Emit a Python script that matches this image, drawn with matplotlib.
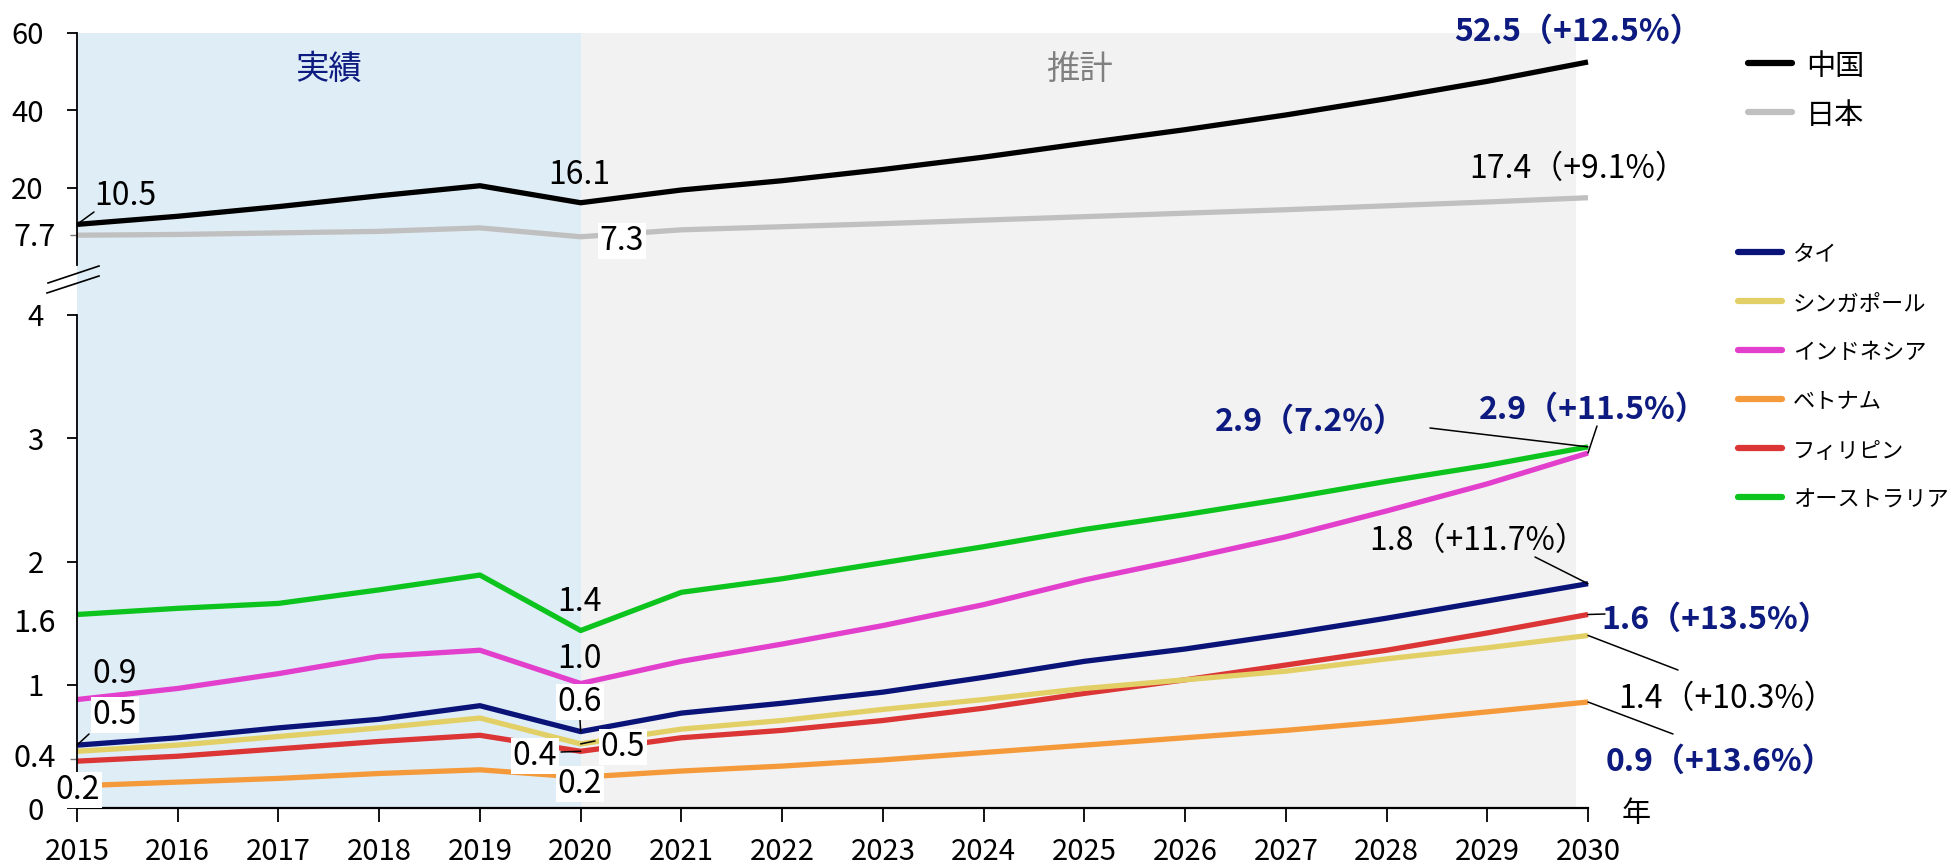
import matplotlib
matplotlib.use('Agg')
import matplotlib.pyplot as plt
from matplotlib.lines import Line2D

plt.rcParams['font.family'] = ['Noto Sans CJK JP', 'DejaVu Sans']

# ---------------- data ----------------
years = list(range(2015, 2031))
china = [10.5, 12.6, 15.1, 17.9, 20.5, 16.1, 19.4, 21.8, 24.7, 27.9, 31.5, 35.0, 38.8, 43.0, 47.5, 52.5]
japan = [7.7, 7.9, 8.3, 8.7, 9.6, 7.3, 9.1, 9.9, 10.7, 11.6, 12.5, 13.4, 14.3, 15.3, 16.3, 17.4]
thai = [0.51, 0.57, 0.65, 0.72, 0.83, 0.62, 0.77, 0.85, 0.94, 1.06, 1.19, 1.29, 1.41, 1.54, 1.68, 1.82]
sing = [0.46, 0.51, 0.58, 0.65, 0.73, 0.52, 0.64, 0.71, 0.80, 0.88, 0.97, 1.04, 1.11, 1.21, 1.30, 1.40]
indo = [0.88, 0.97, 1.09, 1.23, 1.28, 1.01, 1.19, 1.33, 1.48, 1.65, 1.85, 2.02, 2.20, 2.41, 2.63, 2.88]
viet = [0.18, 0.21, 0.24, 0.28, 0.31, 0.25, 0.30, 0.34, 0.39, 0.45, 0.51, 0.57, 0.63, 0.70, 0.78, 0.86]
phil = [0.38, 0.42, 0.48, 0.54, 0.59, 0.46, 0.57, 0.63, 0.71, 0.81, 0.93, 1.04, 1.16, 1.28, 1.42, 1.57]
aus = [1.57, 1.62, 1.66, 1.77, 1.89, 1.44, 1.75, 1.86, 1.99, 2.12, 2.26, 2.38, 2.51, 2.65, 2.78, 2.93]

top_names = ['中国', '日本']
bot_names = ['タイ', 'シンガポール', 'インドネシア', 'ベトナム', 'フィリピン', 'オーストラリア']
top_ticks = [20, 40, 60]
bot_ticks = [0, 1, 2, 3, 4]

# ---------------- style ----------------
C_CHINA, C_JAPAN = '#000000', '#c0c0c0'
C_THAI, C_SING, C_INDO = '#0a1478', '#e2d066', '#e23fcd'
C_VIET, C_PHIL, C_AUS = '#f59a3a', '#db3535', '#0cc41d'
NAVY = '#0d1a7f'
BLUE_BG, GREY_BG = '#dfedf7', '#f2f2f2'

WPX, HPX = 1953, 868
def fx(x): return x / WPX
def fy(y): return 1 - y / HPX

fig = plt.figure(figsize=(WPX / 100, HPX / 100), dpi=100)
L, R = fx(77), fx(1588)
W = R - L
bg = fig.add_axes([L, fy(808), W, fy(33) - fy(808)], zorder=0)
ax_t = fig.add_axes([L, fy(265), W, fy(33) - fy(265)], zorder=1)
ax_b = fig.add_axes([L, fy(808), W, fy(315) - fy(808)], zorder=1)

bg.set_xlim(2015, 2030)
bg.set_ylim(0, 1)
bg.axvspan(2015, 2020, color=BLUE_BG, lw=0)
bg.axvspan(2020, 2029.88, color=GREY_BG, lw=0)
bg.axis('off')

LW = 3.8
for ax in (ax_t, ax_b):
    ax.set_facecolor('none')
    ax.set_xlim(2015, 2030)
    for s in ('top', 'right'):
        ax.spines[s].set_visible(False)
    ax.spines['left'].set_linewidth(1.3)

ax_t.plot(years, china, color=C_CHINA, lw=LW, clip_on=False, solid_capstyle='butt')
ax_t.plot(years, japan, color=C_JAPAN, lw=LW, clip_on=False, solid_capstyle='butt')
ax_t.set_ylim(0, 60)
ax_t.spines['bottom'].set_visible(False)
ax_t.set_xticks([])
ax_t.set_yticks(top_ticks)
ax_t.set_yticks([7.7], minor=True)
ax_t.set_yticklabels([str(t) for t in top_ticks], fontsize=21)
ax_t.tick_params(axis='y', which='major', length=7, width=1.3, pad=17)
ax_t.tick_params(axis='y', which='minor', length=5, width=1, color='#777777')

series_b = [thai, sing, indo, viet, phil, aus]
colors_b = [C_THAI, C_SING, C_INDO, C_VIET, C_PHIL, C_AUS]
draw_order = [3, 4, 1, 0, 2, 5]
for i in draw_order:
    ax_b.plot(years, series_b[i], color=colors_b[i], lw=LW, clip_on=False, solid_capstyle='butt')
ax_b.set_ylim(0, 4)
ax_b.set_yticks(bot_ticks)
ax_b.set_yticks([0.4], minor=True)
ax_b.set_yticklabels([str(t) for t in bot_ticks], fontsize=21)
ax_b.tick_params(axis='y', which='major', length=7, width=1.3, pad=17)
ax_b.tick_params(axis='y', which='minor', length=5, width=1, color='#777777')
ax_b.set_xticks(years)
ax_b.set_xticklabels([str(y) for y in years], fontsize=21)
ax_b.tick_params(axis='x', length=10, width=1.3, pad=11)
ax_b.spines['bottom'].set_linewidth(1.6)

DY = 4  # visual centring offset for CJK font metrics

# decimal y labels
def ylab(ax, v, s, off):
    ax.annotate(s, xy=(0, v), xycoords=ax.get_yaxis_transform(), xytext=(-21, off),
                textcoords='offset pixels', ha='right', va='center', fontsize=22)
ylab(ax_t, 7.7, '7.7', -2)
ylab(ax_b, 0.4, '0.4', 0)
fig.text(fx(56), fy(620 + DY), '1.6', ha='right', va='center', fontsize=22)

# break marks
for (x0, y0, x1, y1) in [(48, 283, 99, 266), (47, 293, 99, 276)]:
    fig.add_artist(Line2D([fx(x0), fx(x1)], [fy(y0), fy(y1)], color='black', lw=1.2))

# region labels
fig.text(fx(329), fy(65 + DY), '実績', ha='center', va='center', fontsize=24, color=NAVY)
fig.text(fx(1079), fy(65 + DY), '推計', ha='center', va='center', fontsize=24, color='#808080')

WB = dict(facecolor='white', edgecolor='none', pad=1.5)
def label(x, y, s, color='black', bold=False, box=False, size=23):
    fig.text(fx(x), fy(y + DY), s, ha='center', va='center', fontsize=size, color=color,
             fontweight='bold' if bold else 'normal', bbox=WB if box else None, zorder=5)

def leader(ax, year, val, x, y):
    ax.annotate('', xy=(year, val), xycoords='data', xytext=(fx(x), fy(y)),
                textcoords='figure fraction', annotation_clip=False,
                arrowprops=dict(arrowstyle='-', lw=1.1, color='black', shrinkA=0, shrinkB=0),
                zorder=6)

# top panel labels
label(125, 192, '10.5')
leader(ax_t, years[0], china[0], 94, 212)
label(579, 171, '16.1')
label(622, 237, '7.3', box=True)
label(1578, 28, '52.5（+12.5%）', color=NAVY, bold=True)
label(1578, 165, '17.4（+9.1%）')

# bottom panel labels
label(115, 670, '0.9')
label(115, 711, '0.5', box=True)
leader(ax_b, years[0], thai[0], 89, 734)
label(78, 786, '0.2', box=True)
label(580, 598, '1.4')
label(580, 655, '1.0')
label(580, 698, '0.6', box=True)
leader(ax_b, years[5], thai[5], 580, 720)
label(535, 752, '0.4', box=True)
leader(ax_b, years[5], phil[5], 561, 752)
label(623, 743, '0.5', box=True)
leader(ax_b, years[5], sing[5], 595, 741)
label(580, 780, '0.2', box=True)

label(1310, 418, '2.9（7.2%）', color=NAVY, bold=True)
leader(ax_b, years[-1], aus[-1], 1430, 428)
label(1593, 406, '2.9（+11.5%）', color=NAVY, bold=True)
leader(ax_b, years[-1], indo[-1], 1597, 426)
label(1478, 537, '1.8（+11.7%）')
leader(ax_b, years[-1], thai[-1], 1535, 557)
label(1716, 616, '1.6（+13.5%）', color=NAVY, bold=True)
leader(ax_b, years[-1], phil[-1], 1605, 614)
label(1727, 695, '1.4（+10.3%）')
leader(ax_b, years[-1], sing[-1], 1678, 670)
label(1720, 758, '0.9（+13.6%）', color=NAVY, bold=True)
leader(ax_b, years[-1], viet[-1], 1673, 734)
label(1636, 810, '年', size=21)

# legends
for i, (name, c) in enumerate(zip(top_names, [C_CHINA, C_JAPAN])):
    y = 63 + i * 49
    fig.add_artist(Line2D([fx(1748), fx(1792)], [fy(y)] * 2, color=c, lw=4.5, solid_capstyle='round'))
    fig.text(fx(1806), fy(y + DY), name, ha='left', va='center', fontsize=21)
for i, (name, c) in enumerate(zip(bot_names, colors_b)):
    y = 252 + i * 49
    fig.add_artist(Line2D([fx(1738), fx(1782)], [fy(y)] * 2, color=c, lw=4.5, solid_capstyle='round'))
    fig.text(fx(1793), fy(y + 3), name, ha='left', va='center', fontsize=16)

fig.savefig('out.png', dpi=100)
